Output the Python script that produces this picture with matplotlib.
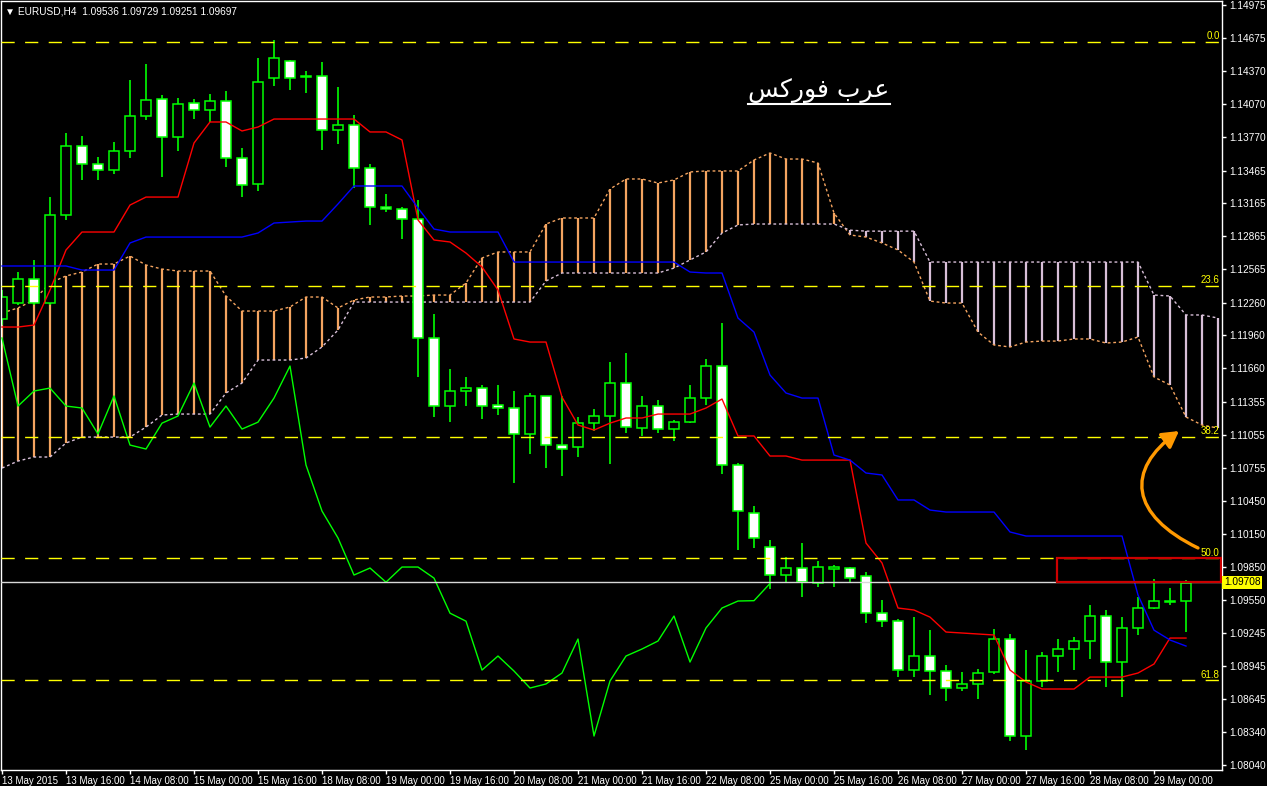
import numpy as np
import matplotlib
matplotlib.use("Agg")
import matplotlib.pyplot as plt
import matplotlib.transforms as mtransforms
from matplotlib.patches import Rectangle, FancyArrowPatch, ArrowStyle
from matplotlib.path import Path
from matplotlib.lines import Line2D

plt.rcParams['font.family'] = ['Liberation Sans', 'DejaVu Sans']

# EURUSD H4 candles, 13 May 2015 00:00 .. 29 May 2015 08:00
opens = [1.12110, 1.12256, 1.12475, 1.12256, 1.13059, 1.13689, 1.13524, 1.13470, 1.13643, 1.13962,
         1.14118, 1.13771, 1.14081, 1.14017, 1.14099, 1.13579, 1.13342, 1.14309, 1.14464, 1.14328,
         1.14328, 1.13835, 1.13880, 1.13488, 1.13132, 1.13114, 1.13023, 1.11937, 1.11316, 1.11453,
         1.11480, 1.11325, 1.11298, 1.11061, 1.11408, 1.10960, 1.10942, 1.11160, 1.11225, 1.11526,
         1.11115, 1.11316, 1.11106, 1.11169, 1.11389, 1.11681, 1.10778, 1.10340, 1.10030, 1.09774,
         1.09838, 1.09700, 1.09829, 1.09838, 1.09764, 1.09426, 1.09353, 1.08907, 1.09035, 1.08898,
         1.08743, 1.08780, 1.08889, 1.09190, 1.08305, 1.08807, 1.09035, 1.09099, 1.09172, 1.09400,
         1.08980, 1.09291, 1.09473, 1.09528, 1.09536]
highs = [1.12375, 1.12539, 1.12649, 1.13223, 1.13807, 1.13780, 1.13588, 1.13725, 1.14291, 1.14437,
         1.14154, 1.14127, 1.14118, 1.14163, 1.14191, 1.13670, 1.14492, 1.14656, 1.14474, 1.14373,
         1.14455, 1.14227, 1.13972, 1.13524, 1.13251, 1.13132, 1.13196, 1.12156, 1.11654, 1.11581,
         1.11508, 1.11508, 1.11453, 1.11435, 1.11408, 1.11408, 1.11216, 1.11289, 1.11718, 1.11800,
         1.11408, 1.11371, 1.11188, 1.11508, 1.11745, 1.12073, 1.10796, 1.10404, 1.10093, 1.09938,
         1.10066, 1.09902, 1.09865, 1.09847, 1.09801, 1.09545, 1.09372, 1.09390, 1.09271, 1.08952,
         1.08889, 1.08916, 1.09281, 1.09236, 1.09090, 1.09072, 1.09190, 1.09208, 1.09500, 1.09455,
         1.09390, 1.09572, 1.09738, 1.09656, 1.09729]
lows = [1.12055, 1.12238, 1.12238, 1.12238, 1.13014, 1.13379, 1.13379, 1.13433, 1.13579, 1.13926,
        1.13406, 1.13643, 1.13935, 1.13908, 1.13497, 1.13223, 1.13278, 1.14236, 1.14200, 1.14172,
        1.13652, 1.13707, 1.13306, 1.12968, 1.13087, 1.12840, 1.11581, 1.11216, 1.11169, 1.11316,
        1.11197, 1.11234, 1.10614, 1.10878, 1.10750, 1.10678, 1.10851, 1.11088, 1.10787, 1.11070,
        1.11043, 1.11070, 1.10997, 1.11160, 1.11325, 1.10696, 1.10002, 1.10021, 1.09645, 1.09709,
        1.09572, 1.09664, 1.09664, 1.09700, 1.09335, 1.09299, 1.08843, 1.08843, 1.08679, 1.08624,
        1.08716, 1.08643, 1.08871, 1.08259, 1.08177, 1.08752, 1.08889, 1.08907, 1.09008, 1.08752,
        1.08661, 1.09227, 1.09464, 1.09500, 1.09251]
closes = [1.12311, 1.12475, 1.12256, 1.13059, 1.13689, 1.13524, 1.13470, 1.13643, 1.13962, 1.14109,
          1.13771, 1.14072, 1.14017, 1.14099, 1.13579, 1.13333, 1.14273, 1.14492, 1.14309, 1.14318,
          1.13835, 1.13880, 1.13488, 1.13132, 1.13114, 1.13023, 1.11937, 1.11316, 1.11453, 1.11480,
          1.11316, 1.11298, 1.11061, 1.11408, 1.10960, 1.10924, 1.11160, 1.11225, 1.11526, 1.11124,
          1.11316, 1.11106, 1.11169, 1.11389, 1.11681, 1.10778, 1.10358, 1.10112, 1.09774, 1.09838,
          1.09709, 1.09847, 1.09847, 1.09746, 1.09426, 1.09353, 1.08907, 1.09035, 1.08898, 1.08743,
          1.08780, 1.08880, 1.09190, 1.08305, 1.08807, 1.09035, 1.09099, 1.09172, 1.09400, 1.08980,
          1.09291, 1.09473, 1.09537, 1.09540, 1.09697]

# Ichimoku lines
tenkan = [1.12037, 1.12037, 1.12055, 1.12375, 1.12740, 1.12904, 1.12904, 1.12904, 1.13150, 1.13223,
          1.13223, 1.13223, 1.13716, 1.13908, 1.13908, 1.13826, 1.13862, 1.13935, 1.13935, 1.13935,
          1.13935, 1.13935, 1.13935, 1.13817, 1.13817, 1.13744, 1.13014, 1.12831, 1.12813, 1.12712,
          1.12585, 1.12375, 1.11928, 1.11900, 1.11900, 1.11398, 1.11143, 1.11097, 1.11160, 1.11207,
          1.11207, 1.11243, 1.11243, 1.11243, 1.11298, 1.11380, 1.11043, 1.11043, 1.10860, 1.10860,
          1.10823, 1.10823, 1.10823, 1.10823, 1.10066, 1.09884, 1.09473, 1.09455, 1.09390, 1.09254,
          1.09245, 1.09236, 1.09227, 1.08907, 1.08798, 1.08734, 1.08734, 1.08734, 1.08843, 1.08843,
          1.08843, 1.08880, 1.08962, 1.09199, 1.09199]
kijun = [1.12594, 1.12594, 1.12594, 1.12594, 1.12594, 1.12557, 1.12557, 1.12557, 1.12804, 1.12858,
         1.12858, 1.12858, 1.12858, 1.12858, 1.12858, 1.12858, 1.12895, 1.12986, 1.12995, 1.13004,
         1.13004, 1.13160, 1.13324, 1.13324, 1.13324, 1.13324, 1.13123, 1.12931, 1.12904, 1.12904,
         1.12904, 1.12904, 1.12630, 1.12630, 1.12630, 1.12630, 1.12630, 1.12630, 1.12630, 1.12630,
         1.12630, 1.12630, 1.12630, 1.12539, 1.12530, 1.12530, 1.12119, 1.11991, 1.11599, 1.11435,
         1.11389, 1.11389, 1.10869, 1.10823, 1.10705, 1.10687, 1.10459, 1.10459, 1.10367, 1.10349,
         1.10349, 1.10349, 1.10349, 1.10167, 1.10130, 1.10130, 1.10130, 1.10130, 1.10130, 1.10130,
         1.10130, 1.09592, 1.09271, 1.09181, 1.09126]
span_a = [1.12165, 1.12211, 1.12284, 1.12439, 1.12503, 1.12539, 1.12612, 1.12612, 1.12685, 1.12603,
          1.12566, 1.12548, 1.12548, 1.12548, 1.12320, 1.12183, 1.12183, 1.12183, 1.12220, 1.12311,
          1.12311, 1.12211, 1.12284, 1.12311, 1.12311, 1.12320, 1.12320, 1.12329, 1.12329, 1.12439,
          1.12667, 1.12722, 1.12722, 1.12722, 1.12977, 1.13032, 1.13032, 1.13032, 1.13296, 1.13388,
          1.13388, 1.13351, 1.13379, 1.13452, 1.13461, 1.13461, 1.13461, 1.13561, 1.13625, 1.13570,
          1.13570, 1.13534, 1.13077, 1.12877, 1.12858, 1.12804, 1.12740, 1.12630, 1.12274, 1.12256,
          1.12256, 1.11991, 1.11873, 1.11855, 1.11900, 1.11909, 1.11909, 1.11928, 1.11928, 1.11891,
          1.11900, 1.11946, 1.11581, 1.11508, 1.11216, 1.11143, 1.11115]
span_b = [1.10750, 1.10814, 1.10851, 1.10851, 1.10979, 1.11033, 1.11033, 1.11033, 1.11033, 1.11124,
          1.11234, 1.11243, 1.11243, 1.11243, 1.11435, 1.11526, 1.11736, 1.11736, 1.11736, 1.11754,
          1.11855, 1.12010, 1.12265, 1.12265, 1.12265, 1.12265, 1.12265, 1.12265, 1.12265, 1.12265,
          1.12265, 1.12265, 1.12265, 1.12265, 1.12457, 1.12530, 1.12530, 1.12530, 1.12530, 1.12530,
          1.12530, 1.12530, 1.12575, 1.12649, 1.12722, 1.12895, 1.12968, 1.12977, 1.12977, 1.12977,
          1.12977, 1.12977, 1.12977, 1.12921, 1.12912, 1.12912, 1.12912, 1.12912, 1.12630, 1.12630,
          1.12630, 1.12630, 1.12630, 1.12630, 1.12630, 1.12630, 1.12630, 1.12630, 1.12630, 1.12630,
          1.12630, 1.12630, 1.12329, 1.12320, 1.12147, 1.12147, 1.12119]
chikou_shift = 26

# Fibonacci retracement
fib_high = 1.14640
fib_low = 1.05210
fib_levels = [0.0, 23.6, 38.2, 50.0, 61.8]
current_price = 1.09708
zone_top = 1.09929

price_ticks = [1.14975, 1.14675, 1.14370, 1.14070, 1.13770, 1.13465, 1.13165, 1.12865, 1.12565,
               1.12260, 1.11960, 1.11660, 1.11355, 1.11055, 1.10755, 1.10450, 1.10150, 1.09850,
               1.09550, 1.09245, 1.08945, 1.08645, 1.08340, 1.08040]
date_labels = ["13 May 2015", "13 May 16:00", "14 May 08:00", "15 May 00:00", "15 May 16:00",
               "18 May 08:00", "19 May 00:00", "19 May 16:00", "20 May 08:00", "21 May 00:00",
               "21 May 16:00", "22 May 08:00", "25 May 00:00", "25 May 16:00", "26 May 08:00",
               "27 May 00:00", "27 May 16:00", "28 May 08:00", "29 May 00:00"]

LIME = '#00FF00'
SANDY = '#F4A460'
THISTLE = '#D8BFD8'

W, H = 1267, 786
fig = plt.figure(figsize=(W / 100, H / 100), dpi=100, facecolor='black')
ax = fig.add_axes([1 / W, 16 / H, 1221 / W, 769 / H], facecolor='black')
ax.set_xlim(-0.0625, 76.25)
ax.set_ylim(1.07995, 1.15012)

# cloud
idx_c = np.arange(len(span_a))
sa = np.array(span_a)
sb = np.array(span_b)
hatch_cols = [SANDY if a >= b else THISTLE for a, b in zip(sa, sb)]
ax.vlines(idx_c, sa, sb, colors=hatch_cols, lw=1.6, zorder=1)
ax.plot(idx_c, sa, color=SANDY, lw=1, ls=(0, (2, 2)), zorder=1.2)
ax.plot(idx_c, sb, color=THISTLE, lw=1, ls=(0, (2, 2)), zorder=1.2)

# candles
idx = np.arange(len(opens))
ax.vlines(idx, lows, highs, colors=LIME, lw=1.2, zorder=2)
for i, (o, c) in enumerate(zip(opens, closes)):
    face = 'black' if c >= o else 'white'
    ax.add_patch(Rectangle((i - 0.29, min(o, c)), 0.58, abs(c - o), facecolor=face,
                           edgecolor=LIME, lw=1.1, zorder=2.5))

# ichimoku lines
ax.plot(idx, tenkan, color='red', lw=1, zorder=3)
ax.plot(idx, kijun, color='blue', lw=1, zorder=3)
ax.plot(idx[:-chikou_shift], closes[chikou_shift:], color=LIME, lw=1, zorder=3)

# fibonacci levels
for lvl in fib_levels:
    p = fib_high - lvl / 100 * (fib_high - fib_low)
    ax.axhline(p, color='yellow', lw=1, ls=(0, (9.5, 7.5)), zorder=4)
    ax.text(76.1, p + 0.00008, f'{lvl:.1f}', color='yellow', fontsize=7,
            ha='right', va='bottom', zorder=6)

# current price line and zone
ax.axhline(current_price, color='#d8d8d8', lw=1, zorder=4)
ax.add_patch(Rectangle((65.94, current_price), 76.2 - 65.94, zone_top - current_price,
                       fill=False, edgecolor='#CC0000', lw=1.6, zorder=5))

# orange arrow
verts = [(74.75, 1.10021), (70.5, 1.10322), (70.19, 1.10732), (73.56, 1.11088)]
arrow_path = Path(verts, [Path.MOVETO, Path.CURVE4, Path.CURVE4, Path.CURVE4])
ax.add_patch(FancyArrowPatch(path=arrow_path,
                             arrowstyle=ArrowStyle('-|>', head_length=0.7, head_width=0.4),
                             mutation_scale=14, color='#FF9900', lw=2.4, zorder=6))

# axes styling
for s in ax.spines.values():
    s.set_color('white')
    s.set_linewidth(1)
ax.yaxis.tick_right()
ax.set_yticks(price_ticks)
ax.set_yticklabels([f'{v:.5f}' for v in price_ticks])
ax.set_xticks(list(range(0, 73, 4)))
ax.set_xticklabels(date_labels)
for lab in ax.get_xticklabels():
    lab.set_ha('left')
ax.tick_params(axis='both', colors='white', length=3, width=1, direction='out')
ax.tick_params(axis='y', pad=2, labelsize=7.3)
ax.tick_params(axis='x', pad=1, labelsize=7)

# current price tag on the axis
tr = mtransforms.blended_transform_factory(ax.transAxes, ax.transData)
ax.text(1.0015, current_price, '1.09708', transform=tr, color='black', fontsize=7.3,
        ha='left', va='center', clip_on=False,
        bbox=dict(facecolor='yellow', edgecolor='none', pad=1.2), zorder=7)

# header and title
fig.text(5 / W, 1 - 11 / H, '\u25bc EURUSD,H4  1.09536 1.09729 1.09251 1.09697',
         color='white', fontsize=7.3, va='center', ha='left')
fig.text(819 / W, 1 - 91 / H, '\uFEB2\uFEDB\uFEAD\uFEEE\uFED3 \uFE8F\uFEAE\uFECB',
         color='white', fontsize=18, va='center', ha='center', family=['DejaVu Sans'])
fig.add_artist(Line2D([748 / W, 890 / W], [1 - 104 / H, 1 - 104 / H], color='white', lw=1.5))

fig.savefig('out.png', dpi=100, facecolor='black')
